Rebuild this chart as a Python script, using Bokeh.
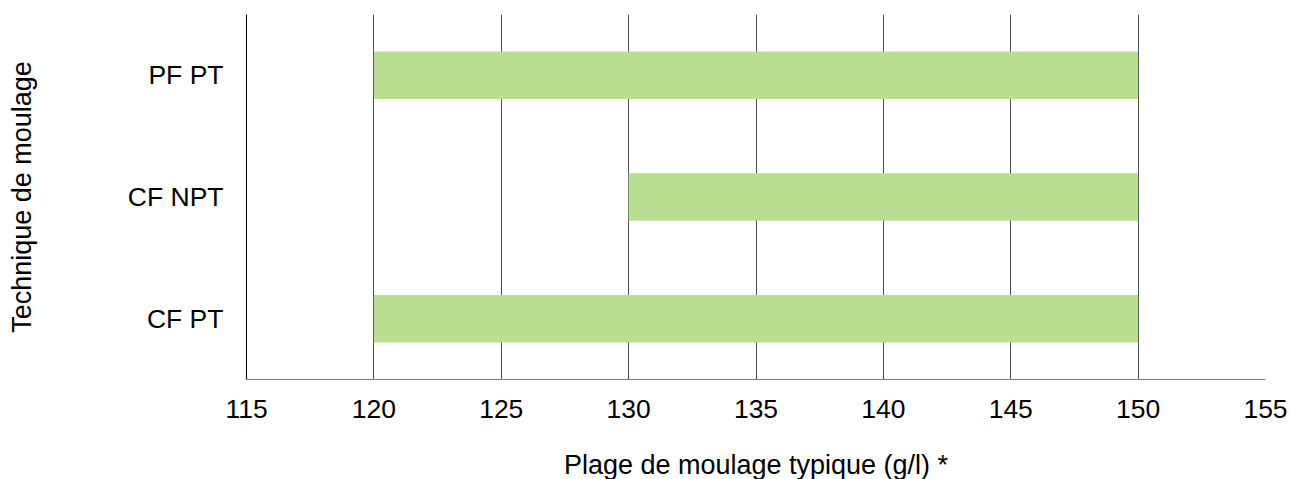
from bokeh.plotting import figure
from bokeh.models import Range1d, FixedTicker, Grid, ColumnDataSource
from bokeh.embed import file_html
from bokeh.resources import INLINE

categories = ["CF PT", "CF NPT", "PF PT"]
range_start = [120, 130, 120]
range_end = [150, 150, 150]
x_ticks = [115, 120, 125, 130, 135, 140, 145, 150, 155]

FONT = "Liberation Sans"
src = ColumnDataSource(dict(cat=categories, left=range_start, right=range_end))

p = figure(frame_width=1019, frame_height=365, y_range=categories,
           x_range=Range1d(x_ticks[0], x_ticks[-1]),
           output_backend="svg", toolbar_location=None,
           min_border_left=246, min_border_right=25, min_border_top=14, min_border_bottom=100)
p.outline_line_color = None
p.hbar(y="cat", left="left", right="right", height=0.39, source=src,
       fill_color="#BADF93", line_color=None)

p.xaxis.ticker = FixedTicker(ticks=x_ticks)
p.xgrid.ticker = FixedTicker(ticks=x_ticks[1:-1])
p.xgrid.grid_line_color = "#4D4D4D"
p.ygrid.grid_line_color = None
g2 = Grid(dimension=0, ticker=FixedTicker(ticks=[x_ticks[-1]]), grid_line_color="black")
p.add_layout(g2)

for ax in (p.xaxis[0], p.yaxis[0]):
    ax.major_tick_line_color = None
    ax.minor_tick_line_color = None
    ax.major_tick_out = 0
    ax.major_tick_in = 0
    ax.minor_tick_out = 0
    ax.major_label_text_font = FONT
    ax.major_label_text_font_size = "26.5px"
    ax.major_label_text_color = "black"
    ax.axis_label_text_font = FONT
    ax.axis_label_text_font_size = "27px"
    ax.axis_label_text_font_style = "normal"
    ax.axis_label_text_color = "black"

p.xaxis.axis_line_color = "#808080"
p.yaxis.axis_line_color = "black"
p.xaxis.axis_label = "Plage de moulage typique (g/l) *"
p.yaxis.axis_label = "Technique de moulage"
p.xaxis.major_label_standoff = 20
p.xaxis.axis_label_standoff = 29
p.yaxis.major_label_standoff = 23
p.yaxis.axis_label_standoff = 88

open("out.html", "w").write(file_html(p, INLINE))
